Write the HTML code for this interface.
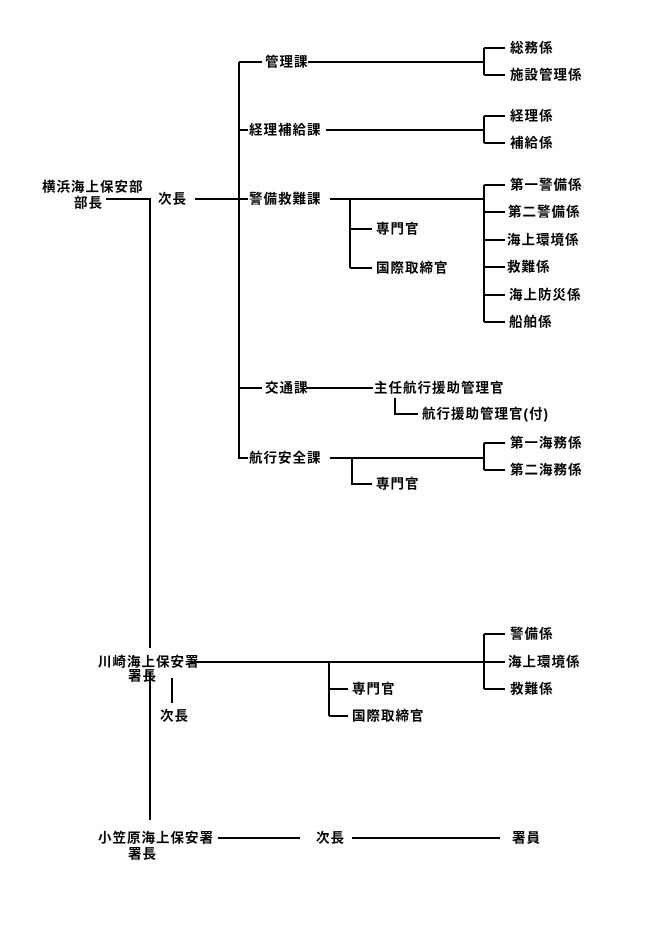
<!DOCTYPE html>
<html><head><meta charset="utf-8"><style>
html,body{margin:0;padding:0;background:#fff;}
svg{display:block;}
text{font-family:"Liberation Sans","Noto Sans CJK JP",sans-serif;font-size:13.5px;font-weight:bold;fill:#000;dominant-baseline:central;letter-spacing:1px;}
</style></head><body>
<svg width="662" height="936" viewBox="0 0 662 936" xmlns="http://www.w3.org/2000/svg">
<g stroke="#000" stroke-width="2" fill="none">
<path d="M106 199H150V648M150 672V820"/>
<path d="M195 199H248"/>
<path d="M239 62V459"/>
<path d="M239 62H262M308 62H484"/>
<path d="M484 48V75M484 48H505M484 75H505"/>
<path d="M239 130H248M326 130H484"/>
<path d="M484 116V143M484 116H505M484 143H505"/>
<path d="M330 199H484"/>
<path d="M484 185V322M484 185H505M484 212H505M484 240H505M484 267H505M484 295H505M484 322H505"/>
<path d="M350 199V268M350 229H372M350 268H372"/>
<path d="M239 388H262M306 388H373"/>
<path d="M395 398V414H418"/>
<path d="M239 458H248M330 458H484"/>
<path d="M484 443V470M484 443H505M484 470H505"/>
<path d="M352 458V484H372"/>
<path d="M191 662H505"/>
<path d="M484 634V689M484 634H505M484 689H505"/>
<path d="M329 662V716M329 689H348M329 716H348"/>
<path d="M172 678V703"/>
<path d="M218 838H300M352 838H500"/>
</g>
<text x="42" y="187">横浜海上保安部</text>
<text x="74" y="203">部長</text>
<text x="158" y="199">次長</text>
<text x="265" y="62">管理課</text>
<text x="249" y="130">経理補給課</text>
<text x="249" y="199">警備救難課</text>
<text x="265" y="388">交通課</text>
<text x="249" y="458">航行安全課</text>
<text x="510" y="48">総務係</text>
<text x="510" y="75">施設管理係</text>
<text x="510" y="116">経理係</text>
<text x="510" y="143">補給係</text>
<text x="510" y="185">第一警備係</text>
<text x="508" y="212">第二警備係</text>
<text x="507" y="240">海上環境係</text>
<text x="507" y="267">救難係</text>
<text x="509" y="295">海上防災係</text>
<text x="509" y="322">船舶係</text>
<text x="376" y="229">専門官</text>
<text x="376" y="268">国際取締官</text>
<text x="374" y="388">主任航行援助管理官</text>
<text x="422" y="414">航行援助管理官(付)</text>
<text x="510" y="443">第一海務係</text>
<text x="510" y="470">第二海務係</text>
<text x="376" y="484">専門官</text>
<text x="98" y="662">川崎海上保安署</text>
<text x="128" y="676">署長</text>
<text x="160" y="716">次長</text>
<text x="352" y="689">専門官</text>
<text x="352" y="716">国際取締官</text>
<text x="510" y="634">警備係</text>
<text x="508" y="662">海上環境係</text>
<text x="510" y="689">救難係</text>
<text x="98" y="838">小笠原海上保安署</text>
<text x="128" y="854">署長</text>
<text x="316" y="838">次長</text>
<text x="512" y="838">署員</text>
</svg>
</body></html>
